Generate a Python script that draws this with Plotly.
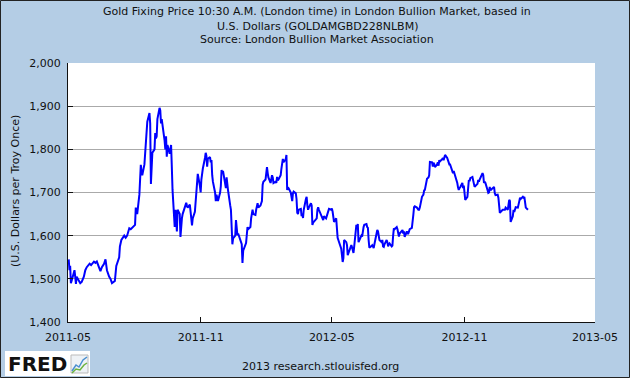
import plotly.graph_objects as go

dates = [
"2011-05-02","2011-05-03","2011-05-04","2011-05-05","2011-05-06","2011-05-09","2011-05-10","2011-05-11","2011-05-12","2011-05-13",
"2011-05-16","2011-05-18","2011-05-20","2011-05-23","2011-05-25","2011-05-27","2011-05-31","2011-06-02","2011-06-06","2011-06-08",
"2011-06-10","2011-06-13","2011-06-15","2011-06-17","2011-06-20","2011-06-22","2011-06-24","2011-06-27","2011-06-29","2011-07-01",
"2011-07-05","2011-07-07","2011-07-11","2011-07-12","2011-07-14","2011-07-18","2011-07-20","2011-07-22","2011-07-25","2011-07-27",
"2011-07-29","2011-08-02","2011-08-03","2011-08-05","2011-08-08","2011-08-09","2011-08-10","2011-08-11","2011-08-12","2011-08-15",
"2011-08-16","2011-08-17","2011-08-18","2011-08-19","2011-08-22","2011-08-23","2011-08-24","2011-08-25","2011-08-26","2011-08-29",
"2011-08-30","2011-08-31","2011-09-01","2011-09-02","2011-09-05","2011-09-06","2011-09-07","2011-09-08","2011-09-09","2011-09-12",
"2011-09-13","2011-09-14","2011-09-15","2011-09-16","2011-09-19","2011-09-20","2011-09-21","2011-09-22","2011-09-23","2011-09-26",
"2011-09-27","2011-09-28","2011-09-29","2011-09-30","2011-10-03","2011-10-04","2011-10-05","2011-10-06","2011-10-07","2011-10-10",
"2011-10-11","2011-10-12","2011-10-13","2011-10-14","2011-10-17","2011-10-18","2011-10-19","2011-10-20","2011-10-21","2011-10-24",
"2011-10-25","2011-10-26","2011-10-27","2011-10-28","2011-10-31","2011-11-01","2011-11-02","2011-11-03","2011-11-04","2011-11-07",
"2011-11-08","2011-11-09","2011-11-10","2011-11-11","2011-11-14","2011-11-15","2011-11-16","2011-11-17","2011-11-18","2011-11-21",
"2011-11-22","2011-11-23","2011-11-24","2011-11-25","2011-11-28","2011-11-29","2011-11-30","2011-12-01","2011-12-02","2011-12-05",
"2011-12-06","2011-12-07","2011-12-08","2011-12-09","2011-12-12","2011-12-13","2011-12-14","2011-12-15","2011-12-16","2011-12-19",
"2011-12-20","2011-12-21","2011-12-22","2011-12-23","2011-12-28","2011-12-29","2011-12-30",
"2012-01-03","2012-01-04","2012-01-05","2012-01-06","2012-01-09","2012-01-10","2012-01-11","2012-01-12","2012-01-13","2012-01-16",
"2012-01-17","2012-01-18","2012-01-19","2012-01-20","2012-01-23","2012-01-24","2012-01-25","2012-01-26","2012-01-27","2012-01-30",
"2012-01-31","2012-02-01","2012-02-02","2012-02-03","2012-02-06","2012-02-07","2012-02-08","2012-02-09","2012-02-10","2012-02-13",
"2012-02-14","2012-02-15","2012-02-16","2012-02-17","2012-02-20","2012-02-21","2012-02-22","2012-02-23","2012-02-24","2012-02-27",
"2012-02-28","2012-02-29","2012-03-01","2012-03-02","2012-03-05","2012-03-06","2012-03-07","2012-03-08","2012-03-09","2012-03-12",
"2012-03-13","2012-03-14","2012-03-15","2012-03-16","2012-03-19","2012-03-20","2012-03-21","2012-03-22","2012-03-23","2012-03-26",
"2012-03-27","2012-03-28","2012-03-29","2012-03-30","2012-04-02","2012-04-03","2012-04-04","2012-04-05","2012-04-10","2012-04-11",
"2012-04-12","2012-04-13","2012-04-16","2012-04-17","2012-04-18","2012-04-19","2012-04-20","2012-04-23","2012-04-24","2012-04-25",
"2012-04-26","2012-04-27","2012-04-30","2012-05-01","2012-05-02","2012-05-03","2012-05-04","2012-05-07","2012-05-08","2012-05-09",
"2012-05-10","2012-05-11","2012-05-14","2012-05-15","2012-05-16","2012-05-17","2012-05-18","2012-05-21","2012-05-22","2012-05-23",
"2012-05-24","2012-05-25","2012-05-28","2012-05-29","2012-05-30","2012-05-31","2012-06-01","2012-06-04","2012-06-05","2012-06-06",
"2012-06-07","2012-06-08","2012-06-11","2012-06-12","2012-06-13","2012-06-14","2012-06-15","2012-06-18","2012-06-19","2012-06-20",
"2012-06-21","2012-06-22","2012-06-25","2012-06-26","2012-06-27","2012-06-28","2012-06-29","2012-07-02","2012-07-03","2012-07-04",
"2012-07-05","2012-07-06","2012-07-09","2012-07-10","2012-07-11","2012-07-12","2012-07-13","2012-07-16","2012-07-17","2012-07-18",
"2012-07-19","2012-07-20","2012-07-23","2012-07-24","2012-07-25","2012-07-26","2012-07-27","2012-07-30","2012-07-31","2012-08-01",
"2012-08-02","2012-08-03","2012-08-06","2012-08-07","2012-08-08","2012-08-09","2012-08-10","2012-08-13","2012-08-14","2012-08-15",
"2012-08-16","2012-08-17","2012-08-20","2012-08-21","2012-08-22","2012-08-23","2012-08-24","2012-08-27","2012-08-28","2012-08-29",
"2012-08-30","2012-08-31","2012-09-03","2012-09-04","2012-09-05","2012-09-06","2012-09-07","2012-09-10","2012-09-11","2012-09-12",
"2012-09-13","2012-09-14","2012-09-17","2012-09-18","2012-09-19","2012-09-20","2012-09-21","2012-09-24","2012-09-25","2012-09-26",
"2012-09-27","2012-09-28","2012-10-01","2012-10-02","2012-10-03","2012-10-04","2012-10-05","2012-10-08","2012-10-09","2012-10-10",
"2012-10-11","2012-10-12","2012-10-15","2012-10-16","2012-10-17","2012-10-18","2012-10-19","2012-10-22","2012-10-23","2012-10-24",
"2012-10-25","2012-10-26","2012-10-29","2012-10-30","2012-10-31","2012-11-01","2012-11-02","2012-11-05","2012-11-06","2012-11-07",
"2012-11-08","2012-11-09","2012-11-12","2012-11-13","2012-11-14","2012-11-15","2012-11-16","2012-11-19","2012-11-20","2012-11-21",
"2012-11-22","2012-11-23","2012-11-26","2012-11-27","2012-11-28","2012-11-29","2012-11-30","2012-12-03","2012-12-04","2012-12-05",
"2012-12-06","2012-12-07","2012-12-10","2012-12-11","2012-12-12","2012-12-13","2012-12-14","2012-12-17","2012-12-18","2012-12-19",
"2012-12-20","2012-12-21","2012-12-24","2012-12-27","2012-12-28","2012-12-31",
"2013-01-02","2013-01-03","2013-01-04","2013-01-07","2013-01-08","2013-01-09","2013-01-10","2013-01-11","2013-01-14","2013-01-15",
"2013-01-16","2013-01-17","2013-01-18","2013-01-21","2013-01-22","2013-01-23","2013-01-24","2013-01-25","2013-01-28",
]

prices = [
1545,1520,1530,1490,1495,1510,1520,1505,1488,1505,
1495,1490,1493,1505,1520,1527,1535,1532,1540,1537,
1540,1525,1518,1527,1535,1545,1520,1505,1500,1490,
1495,1530,1550,1575,1590,1600,1595,1600,1617,1615,
1618,1625,1665,1650,1695,1740,1764,1748,1740,1765,
1790,1800,1820,1864,1884,1860,1720,1760,1792,1800,
1838,1825,1830,1870,1896,1890,1860,1870,1860,1820,
1800,1830,1783,1810,1790,1800,1810,1760,1706,1620,
1660,1640,1610,1660,1650,1597,1625,1640,1650,1665,
1670,1676,1670,1665,1672,1645,1640,1624,1640,1655,
1680,1715,1718,1743,1715,1700,1730,1745,1755,1780,
1792,1785,1760,1778,1782,1770,1775,1740,1725,1700,
1680,1695,1690,1680,1700,1715,1752,1745,1750,1725,
1710,1735,1725,1705,1670,1660,1620,1580,1594,1600,
1636,1620,1601,1605,1580,1537,1565,
1583,1613,1620,1615,1620,1640,1648,1660,1650,1648,
1660,1665,1675,1665,1670,1675,1680,1718,1725,1730,
1745,1759,1745,1735,1722,1729,1740,1735,1722,1725,
1722,1736,1728,1730,1740,1755,1765,1778,1770,1777,
1787,1706,1712,1710,1700,1688,1680,1698,1702,1698,
1685,1653,1650,1660,1662,1645,1651,1641,1660,1685,
1690,1670,1660,1665,1675,1670,1625,1630,1640,1660,
1666,1660,1650,1645,1640,1636,1645,1640,1645,1650,
1660,1662,1660,1663,1656,1640,1632,1640,1606,1595,
1590,1585,1570,1555,1539,1548,1590,1585,1578,1555,
1560,1568,1578,1573,1560,1560,1575,1625,1618,1627,
1585,1590,1600,1598,1615,1620,1625,1627,1620,1618,
1590,1572,1576,1578,1575,1571,1580,1605,1613,1610,
1600,1590,1585,1590,1575,1574,1580,1590,1585,1575,
1580,1582,1575,1577,1600,1617,1615,1620,1615,1601,
1598,1605,1610,1613,1605,1610,1597,1610,1605,1605,
1610,1615,1618,1629,1648,1666,1668,1665,1660,1660,
1660,1665,1690,1692,1695,1705,1706,1732,1734,1735,
1740,1771,1770,1760,1769,1766,1759,1765,1770,1762,
1775,1772,1777,1780,1775,1782,1787,1780,1775,1769,
1765,1765,1750,1745,1750,1745,1735,1722,1712,1706,
1710,1712,1722,1710,1716,1700,1683,1690,1715,1729,
1726,1733,1736,1730,1725,1713,1715,1720,1729,1725,
1730,1735,1745,1740,1722,1725,1722,1705,1699,1700,
1713,1705,1710,1710,1713,1698,1694,1695,1688,1670,
1653,1655,1660,1660,1665,1660,
1683,1680,1632,1645,1660,1655,1660,1666,1665,1670,
1680,1688,1685,1690,1688,1690,1671,1665,1660,
]

y_ticks = [1400, 1500, 1600, 1700, 1800, 1900, 2000]
title_lines = [
    "Gold Fixing Price 10:30 A.M. (London time) in London Bullion Market, based in",
    "U.S. Dollars (GOLDAMGBD228NLBM)",
    "Source: London Bullion Market Association",
]
y_title = "(U.S. Dollars per Troy Once)"
footer = "2013 research.stlouisfed.org"

W, H = 630, 378
L, R, T, B = 68, 35, 63, 56
PW, PH = W - L - R, H - T - B


def px(x):
    return (x - L) / PW


def py(y):
    return 1 - (y - T) / PH


FONT = "DejaVu Sans"
BG = "#b4cde5"

fig = go.Figure(
    go.Scatter(x=dates, y=prices, mode="lines",
               line=dict(color="#0000ff", width=2), hoverinfo="skip")
)

annotations = []
for i, t in enumerate(title_lines):
    annotations.append(dict(text=t, x=px(317), y=py(12 + 14 * i), xref="paper", yref="paper",
                            xanchor="center", yanchor="middle", showarrow=False,
                            font=dict(family=FONT, size=11, color="#111")))
annotations.append(dict(text=y_title, x=px(15), y=py(191), xref="paper", yref="paper",
                        xanchor="center", yanchor="middle", showarrow=False, textangle=-90,
                        font=dict(family=FONT, size=11, color="#111")))
annotations.append(dict(text=footer, x=px(320), y=py(366), xref="paper", yref="paper",
                        xanchor="center", yanchor="middle", showarrow=False,
                        font=dict(family=FONT, size=11, color="#111")))
annotations.append(dict(text="<b>FRED</b>", x=px(6), y=py(364), xref="paper", yref="paper",
                        xanchor="left", yanchor="middle", showarrow=False,
                        font=dict(family="DejaVu Sans", size=20, color="#111")))

shapes = [
    # outer border
    dict(type="rect", xref="paper", yref="paper", x0=px(0.5), x1=px(629.5), y0=py(377.5), y1=py(0.5),
         line=dict(color="#222", width=1), fillcolor="rgba(0,0,0,0)", layer="above"),
    # logo box
    dict(type="rect", xref="paper", yref="paper", x0=px(5), x1=px(90), y0=py(376), y1=py(351),
         line=dict(width=0), fillcolor="white", layer="below"),
    # logo icon grid
    dict(type="rect", xref="paper", yref="paper", x0=px(71), x1=px(88), y0=py(373), y1=py(355),
         line=dict(color="#bbbbbb", width=1), fillcolor="#eef2f6", layer="above"),
    dict(type="path", xref="paper", yref="paper",
         path=f"M {px(72)},{py(371)} L {px(76)},{py(365)} L {px(79)},{py(367)} L {px(83)},{py(360)} L {px(87)},{py(357)}",
         line=dict(color="#4a8fd0", width=1.5), layer="above"),
    dict(type="path", xref="paper", yref="paper",
         path=f"M {px(72)},{py(373)} L {px(76)},{py(369)} L {px(80)},{py(370)} L {px(84)},{py(365)} L {px(87)},{py(363)}",
         line=dict(color="#6cb33f", width=1.5), layer="above"),
]

fig.update_layout(
    width=W, height=H,
    margin=dict(l=L, r=R, t=T, b=B, pad=0),
    paper_bgcolor=BG, plot_bgcolor="white",
    showlegend=False,
    font=dict(family=FONT, size=11, color="#111"),
    annotations=annotations,
    shapes=shapes,
    xaxis=dict(type="date", range=["2011-05-01", "2013-05-01"], tick0="2011-05-01", dtick="M6",
               tickformat="%Y-%m", ticks="inside", ticklen=5, tickcolor="#111",
               showgrid=False, showline=True, linecolor="#111", linewidth=1, zeroline=False,
               tickfont=dict(family=FONT, size=11, color="#111"), ticklabelstandoff=5,
               fixedrange=True),
    yaxis=dict(range=[1400, 2000], tickvals=y_ticks, tickformat=",", ticks="inside", ticklen=5,
               tickcolor="#111", showgrid=True, gridcolor="#aaaaaa", gridwidth=1,
               showline=True, linecolor="#111", linewidth=1, zeroline=False,
               tickfont=dict(family=FONT, size=11, color="#111"), ticklabelstandoff=4,
               fixedrange=True),
)

fig.write_html("out.html", config={"displayModeBar": False},
               post_script="document.body.style.margin='0';document.body.style.overflow='hidden';")
